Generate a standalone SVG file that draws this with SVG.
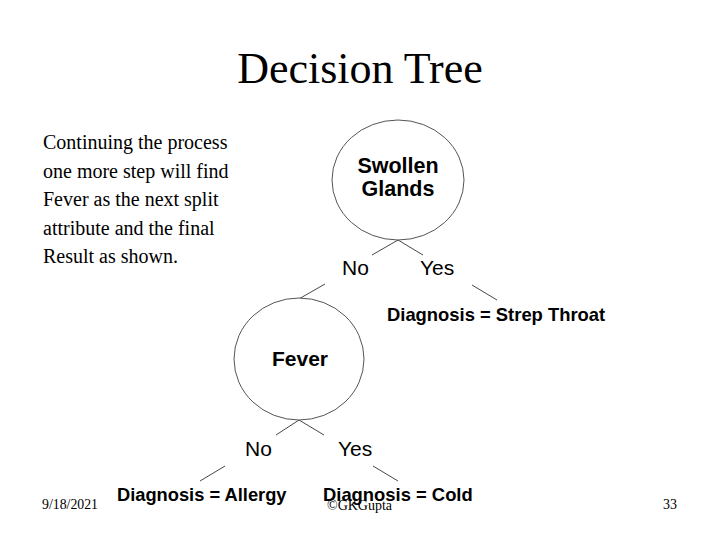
<svg xmlns="http://www.w3.org/2000/svg" width="720" height="540" viewBox="0 0 720 540">
<style>
.serif{font-family:"Liberation Serif","Times New Roman",serif;fill:#000}
.sans{font-family:"Liberation Sans",Arial,sans-serif;fill:#000}
.b{font-weight:bold}
.node{fill:#fff;stroke:#555;stroke-width:1}
.edge{stroke:#333;stroke-width:0.9;fill:none}
</style>
<rect width="720" height="540" fill="#fff"/>
<text class="serif" x="360" y="83" font-size="44" text-anchor="middle">Decision Tree</text>
<g id="description" class="serif" font-size="20">
<text x="43" y="149">Continuing the process</text>
<text x="43" y="178">one more step will find</text>
<text x="43" y="206">Fever as the next split</text>
<text x="43" y="235">attribute and the final</text>
<text x="43" y="263">Result as shown.</text>
</g>
<g id="connectors">
<line class="edge" x1="398" y1="240" x2="372" y2="255"/>
<line class="edge" x1="398" y1="240" x2="423" y2="255"/>
<line class="edge" x1="325" y1="284" x2="297" y2="300"/>
<line class="edge" x1="472" y1="285" x2="497" y2="300"/>
<line class="edge" x1="299" y1="420" x2="276" y2="435"/>
<line class="edge" x1="299" y1="420" x2="324" y2="435"/>
<line class="edge" x1="225" y1="466" x2="200" y2="481"/>
<line class="edge" x1="373" y1="466" x2="398" y2="481"/>
</g>
<g id="swollen-glands">
<ellipse class="node" cx="398" cy="180" rx="66" ry="60"/>
<text class="sans b" x="398" y="173" font-size="21.5" text-anchor="middle">Swollen</text>
<text class="sans b" x="398" y="196" font-size="21.5" text-anchor="middle">Glands</text>
</g>
<g id="label-sg-no"><text class="sans" x="342" y="275" font-size="21">No</text></g>
<g id="label-sg-yes"><text class="sans" x="420" y="275" font-size="21">Yes</text></g>
<g id="strep-throat"><text class="sans b" x="387" y="321" font-size="18.4">Diagnosis = Strep Throat</text></g>
<g id="fever">
<ellipse class="node" cx="299" cy="359" rx="65" ry="61"/>
<text class="sans b" x="300" y="366" font-size="21" text-anchor="middle">Fever</text>
</g>
<g id="label-fever-no"><text class="sans" x="245" y="456" font-size="21">No</text></g>
<g id="label-fever-yes"><text class="sans" x="338" y="456" font-size="21">Yes</text></g>
<g id="allergy"><text class="sans b" x="117" y="501" font-size="18.3">Diagnosis = Allergy</text></g>
<g id="cold"><text class="sans b" x="323" y="501" font-size="18.4">Diagnosis = Cold</text></g>
<g id="footer" class="serif">
<text x="42" y="509" font-size="14" textLength="56" lengthAdjust="spacingAndGlyphs">9/18/2021</text>
<text x="327" y="510" font-size="14">©GKGupta</text>
<text x="663" y="509" font-size="14">33</text>
</g>
</svg>
